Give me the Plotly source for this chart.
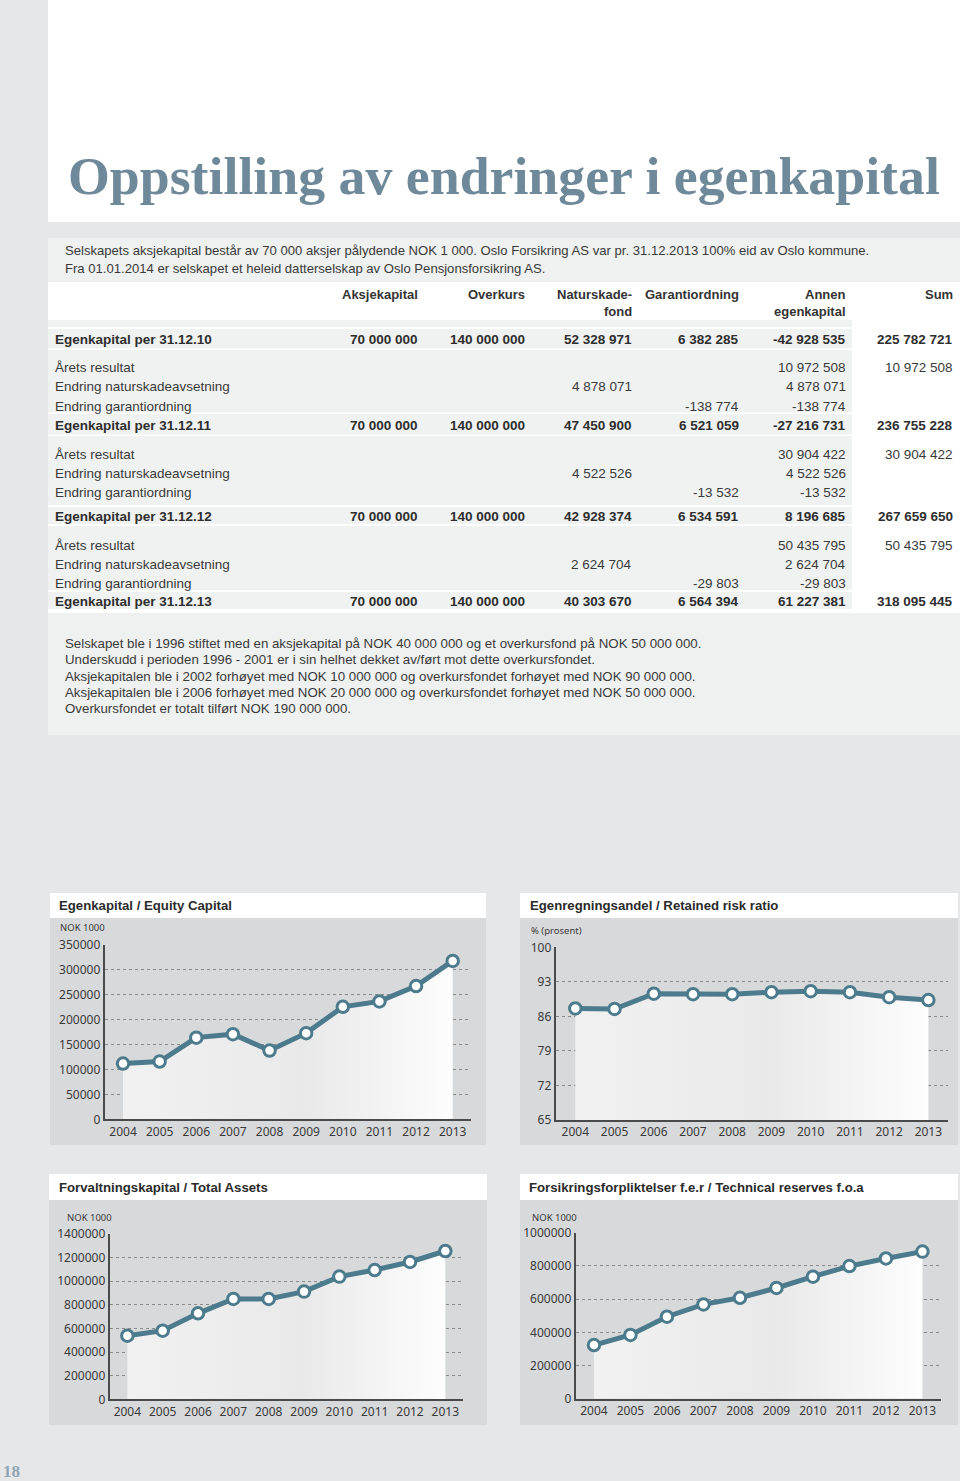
import plotly.graph_objects as go

W, H = 960, 1481

# ---------------- data ----------------
years = [2004, 2005, 2006, 2007, 2008, 2009, 2010, 2011, 2012, 2013]
year_labels = [str(y) for y in years]
equity = [112000, 116000, 164000, 171000, 138000, 173000, 225783, 236755, 267660, 318095]
retained_ratio = [87.6, 87.5, 90.6, 90.5, 90.5, 90.9, 91.1, 90.9, 89.9, 89.3]
total_assets = [539000, 581000, 728000, 850000, 850000, 912000, 1039000, 1095000, 1163000, 1256000]
tech_reserves = [323000, 384000, 494000, 568000, 608000, 667000, 735000, 799000, 845000, 886000]

equity_ticks = [0, 50000, 100000, 150000, 200000, 250000, 300000, 350000]
ratio_ticks = [65, 72, 79, 86, 93, 100]
assets_ticks = [0, 200000, 400000, 600000, 800000, 1000000, 1200000, 1400000]
reserves_ticks = [0, 200000, 400000, 600000, 800000, 1000000]

chart_titles = ["Egenkapital / Equity Capital", "Egenregningsandel / Retained risk ratio",
                "Forvaltningskapital / Total Assets", "Forsikringsforpliktelser f.e.r / Technical reserves f.o.a"]
chart_units = ["NOK 1000", "% (prosent)", "NOK 1000", "NOK 1000"]

page_title = "Oppstilling av endringer i egenkapital"
intro_lines = [
    "Selskapets aksjekapital består av 70 000 aksjer pålydende NOK 1 000. Oslo Forsikring AS var pr. 31.12.2013 100% eid av Oslo kommune.",
    "Fra 01.01.2014 er selskapet et heleid datterselskap av Oslo Pensjonsforsikring AS.",
]
table_headers = [["Aksjekapital"], ["Overkurs"], ["Naturskade-", "fond"], ["Garantiordning"],
                 ["Annen", "egenkapital"], ["Sum"]]
row_labels = [
    "Egenkapital per 31.12.10",
    "Årets resultat", "Endring naturskadeavsetning", "Endring garantiordning",
    "Egenkapital per 31.12.11",
    "Årets resultat", "Endring naturskadeavsetning", "Endring garantiordning",
    "Egenkapital per 31.12.12",
    "Årets resultat", "Endring naturskadeavsetning", "Endring garantiordning",
    "Egenkapital per 31.12.13",
]
row_bold = [True, False, False, False, True, False, False, False, True, False, False, False, True]
row_values = [
    ["70 000 000", "140 000 000", "52 328 971", "6 382 285", "-42 928 535", "225 782 721"],
    ["", "", "", "", "10 972 508", "10 972 508"],
    ["", "", "4 878 071", "", "4 878 071", ""],
    ["", "", "", "-138 774", "-138 774", ""],
    ["70 000 000", "140 000 000", "47 450 900", "6 521 059", "-27 216 731", "236 755 228"],
    ["", "", "", "", "30 904 422", "30 904 422"],
    ["", "", "4 522 526", "", "4 522 526", ""],
    ["", "", "", "-13 532", "-13 532", ""],
    ["70 000 000", "140 000 000", "42 928 374", "6 534 591", "8 196 685", "267 659 650"],
    ["", "", "", "", "50 435 795", "50 435 795"],
    ["", "", "2 624 704", "", "2 624 704", ""],
    ["", "", "", "-29 803", "-29 803", ""],
    ["70 000 000", "140 000 000", "40 303 670", "6 564 394", "61 227 381", "318 095 445"],
]
note_lines = [
    "Selskapet ble i 1996 stiftet med en aksjekapital på NOK 40 000 000 og et overkursfond på NOK 50 000 000.",
    "Underskudd i perioden 1996 - 2001 er i sin helhet dekket av/ført mot dette overkursfondet.",
    "Aksjekapitalen ble i 2002 forhøyet med NOK 10 000 000 og overkursfondet forhøyet med NOK 90 000 000.",
    "Aksjekapitalen ble i 2006 forhøyet med NOK 20 000 000 og overkursfondet forhøyet med NOK 50 000 000.",
    "Overkursfondet er totalt tilført NOK 190 000 000.",
]
page_number = "18"

# ---------------- layout helpers ----------------
PAGE_BG = "#e6e7e8"
LIGHT = "#eff0f0"
PANEL = "#d8d9da"
TEAL = "#4b7b8c"
TXT = "#3a3a3a"
SANS = "Liberation Sans, Arial, sans-serif"
TICKFONT = "Noto Sans, Open Sans, sans-serif"


def px(x):
    return x / W


def py(y):
    return 1 - y / H


shapes = []
annotations = []


def rect(x0, y0, x1, y1, color):
    shapes.append(dict(type="rect", xref="paper", yref="paper", x0=px(x0), x1=px(x1),
                       y0=py(y1), y1=py(y0), fillcolor=color, line=dict(width=0), layer="below"))


def text(x, y, s, size, color=TXT, family=SANS, xanchor="left", bold=False):
    annotations.append(dict(x=px(x), y=py(y), xref="paper", yref="paper", text=s, showarrow=False,
                            xanchor=xanchor, yanchor="middle", borderpad=0,
                            font=dict(size=size, color=color, family=family,
                                      weight="bold" if bold else "normal")))


# ---------------- page backgrounds ----------------
rect(48, 0, 960, 222, "#ffffff")           # title box
rect(48, 238, 960, 282, LIGHT)             # intro box
rect(48, 282, 960, 613, "#ffffff")         # header + table base
rect(48, 320, 852, 612, "#f0f1f1")         # table grey
for (a, b) in [(327, 329), (348.5, 350), (412.5, 414), (434.5, 436), (505, 507), (524, 526), (590, 592), (609, 613)]:
    rect(48, a, 852, b, "#ffffff")
rect(48, 613, 960, 735, LIGHT)             # notes box

# ---------------- title & text ----------------
text(67, 176, page_title, 53.8, color="#6e8999", family="Liberation Serif, DejaVu Serif, serif", bold=True)
intro_y = [251, 268]
for yy, s in zip(intro_y, intro_lines):
    text(64, yy, s, 13.1)

TS = 13.5
col_right = [419, 526, 633, 740, 847, 954]
for xr, lines in zip(col_right, table_headers):
    for k, s in enumerate(lines):
        text(xr, 294 + 17 * k, s, 13, xanchor="right", bold=True, color="#333333")

row_y = [339, 368, 387, 406, 425, 454, 473, 492, 516, 545, 564, 583, 601]
for yy, lab, b, vals in zip(row_y, row_labels, row_bold, row_values):
    text(54, yy, lab, TS, bold=b, color="#2e2e2e" if b else TXT)
    for xr, v in zip(col_right, vals):
        if v:
            text(xr, yy, v, TS, xanchor="right", bold=b, color="#2e2e2e" if b else TXT)

note_y = [644, 660, 676, 692, 708]
for yy, s in zip(note_y, note_lines):
    text(64, yy, s, 13.3)

text(2, 1471, page_number, 17, color="#8fa5b3", family="Liberation Serif, serif", bold=True)

# ---------------- chart panels ----------------
panels = [
    dict(box=(50, 893, 486, 918, 1145), title_xy=(58, 905), unit_xy=(59, 928)),
    dict(box=(520, 893, 958, 918, 1145), title_xy=(529, 905), unit_xy=(530, 930)),
    dict(box=(49, 1174, 487, 1200, 1425), title_xy=(58, 1187), unit_xy=(66, 1217)),
    dict(box=(520, 1174, 958, 1200, 1425), title_xy=(528, 1187), unit_xy=(531, 1217)),
]
for p, t, u in zip(panels, chart_titles, chart_units):
    x0, y0, x1, ym, y1 = p["box"]
    rect(x0, y0, x1, ym, "#ffffff")
    rect(x0, ym, x1, y1, PANEL)
    text(p["title_xy"][0], p["title_xy"][1], t, 13.2, color="#2b2b2b", bold=True)
    text(p["unit_xy"][0], p["unit_xy"][1], u, 9.5, color="#3a3a3a", family=TICKFONT)

# ---------------- charts ----------------
charts = [
    dict(vals=equity, ticks=equity_ticks, xd=(104.7, 471), yd=(945, 1119.3), yr=[0, 350000]),
    dict(vals=retained_ratio, ticks=ratio_ticks, xd=(555.7, 948), yd=(947.3, 1120), yr=[65, 100]),
    dict(vals=total_assets, ticks=assets_ticks, xd=(109.7, 463), yd=(1234, 1399.3), yr=[0, 1400000]),
    dict(vals=tech_reserves, ticks=reserves_ticks, xd=(575.7, 940.7), yd=(1232.7, 1398.7), yr=[0, 1000000]),
]

fig = go.Figure()
layout_axes = {}
for i, c in enumerate(charts):
    sfx = "" if i == 0 else str(i + 1)
    fig.add_trace(go.Scatter(
        x=years, y=c["vals"], xaxis="x" + sfx, yaxis="y" + sfx,
        mode="lines+markers",
        line=dict(color=TEAL, width=5),
        marker=dict(size=11.5, color="#ffffff", line=dict(color=TEAL, width=3)),
        fill="tozeroy",
        fillgradient=dict(type="horizontal",
                          colorscale=[[0, "#f1f1f1"], [0.55, "#e9e9e9"], [1, "#fdfdfd"]]),
        cliponaxis=False, hoverinfo="skip", showlegend=False,
    ))
    layout_axes["xaxis" + sfx] = dict(
        domain=[px(c["xd"][0]), px(c["xd"][1])], range=[2003.5, 2013.5], anchor="y" + sfx,
        tickvals=years, ticktext=year_labels, showgrid=False, zeroline=False,
        showline=True, linecolor="#4a4a4a", linewidth=2, ticks="", automargin=False,
        tickfont=dict(size=12, color=TXT, family=TICKFONT), fixedrange=True,
    )
    layout_axes["yaxis" + sfx] = dict(
        domain=[py(c["yd"][1]), py(c["yd"][0])], range=c["yr"], anchor="x" + sfx,
        tickvals=c["ticks"], ticktext=[str(v) for v in c["ticks"]],
        showgrid=True, gridcolor="#8a8a8a", griddash="dot", gridwidth=1, zeroline=False,
        showline=True, linecolor="#4a4a4a", linewidth=2, ticks="", automargin=False,
        tickfont=dict(size=12, color=TXT, family=TICKFONT), fixedrange=True,
    )

fig.update_layout(
    width=W, height=H, margin=dict(l=0, r=0, t=0, b=0, pad=0, autoexpand=False),
    paper_bgcolor=PAGE_BG, plot_bgcolor="rgba(0,0,0,0)",
    shapes=shapes, annotations=annotations, showlegend=False,
    **layout_axes,
)

post_js = (
    "document.documentElement.style.margin='0px';"
    "document.documentElement.style.padding='0px';"
    "document.documentElement.style.overflow='hidden';"
    "document.body.style.margin='0px';"
    "document.body.style.padding='0px';"
    "document.body.style.overflow='hidden';"
    "var gd=document.getElementById('{plot_id}');"
    "gd.style.position='absolute';gd.style.left='0px';gd.style.top='0px';"
)
fig.write_html("out.html", config={"displayModeBar": False}, post_script=post_js)
